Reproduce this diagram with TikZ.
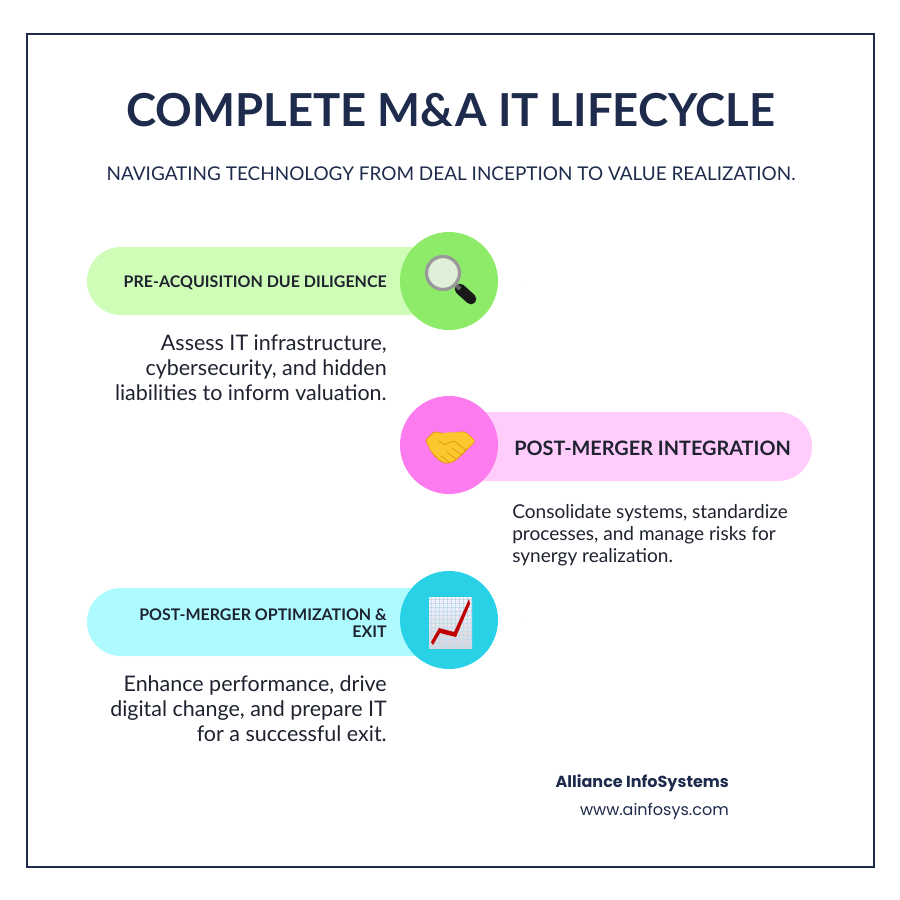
\documentclass[tikz,border=0pt]{standalone}
\usepackage{fontspec}
\setmainfont{Lato}
\newfontfamily\footfont{Poppins}
\definecolor{navy}{HTML}{1E2B4D}
\definecolor{ink}{HTML}{1F2330}
\definecolor{greenpill}{HTML}{CFFDB8}
\definecolor{greencirc}{HTML}{8EEB6A}
\definecolor{pinkpill}{HTML}{FFCCFC}
\definecolor{pinkcirc}{HTML}{FC7CF0}
\definecolor{cyanpill}{HTML}{ADFBFF}
\definecolor{cyancirc}{HTML}{29D1E6}
\definecolor{handyellow}{HTML}{FCC62E}
\definecolor{handdark}{HTML}{E09A12}
\definecolor{lens}{HTML}{DFEFD8}
\definecolor{sheetgrid}{HTML}{C6DAEE}
\usetikzlibrary{positioning}
\tikzset{
  circ/.style={circle, minimum size=73.5pt, inner sep=0pt},
  steptitle/.style={inner sep=0pt, text=ink, font=\fontsize{12pt}{12.5pt}\selectfont\bfseries},
  stepbody/.style={inner sep=0pt, text=ink, font=\fontsize{16.1pt}{18.75pt}\selectfont},
}
\begin{document}
\begin{tikzpicture}[x=0.75pt, y=-0.75pt]
\useasboundingbox (0, 0) rectangle (900, 900);
\fill [white] (0, 0) rectangle (900, 900);
\draw [navy, line width=1.5pt] (27, 34) rectangle (874, 867);
% heading
\node (title) [inner sep=0pt, text=navy, font=\fontsize{34.1pt}{40pt}\selectfont\bfseries] at (451, 110) {COMPLETE M\&A IT LIFECYCLE};
\node (subtitle) [inner sep=0pt, text=navy, font=\fontsize{14.2pt}{17pt}\selectfont] at (451, 174) {NAVIGATING TECHNOLOGY FROM DEAL INCEPTION TO VALUE REALIZATION.};
% pills
\fill [greenpill, rounded corners=25.5pt] (87, 247) rectangle (520, 315);
\fill [white] (450, 240) rectangle (520, 320);
\fill [pinkpill, rounded corners=25.5pt] (380, 412) rectangle (812, 481);
\fill [white] (375, 405) rectangle (449, 490);
\fill [cyanpill, rounded corners=25.5pt] (87, 588) rectangle (520, 656);
\fill [white] (450, 580) rectangle (520, 660);
\node (search) [circ, fill=greencirc] at (449, 281) {};
\node (shake) [circ, fill=pinkcirc] at (449, 445) {};
\node (chart) [circ, fill=cyancirc] at (449, 620) {};
% first step
\node (titlea) [steptitle, anchor=east] at (387, 283) {PRE-ACQUISITION DUE DILIGENCE};
\node (bodya) [stepbody, anchor=north east, align=right] at (387, 335) {Assess IT infrastructure,\\cybersecurity, and hidden\\liabilities to inform valuation.};
% second step
\node (titleb) [steptitle, anchor=west, font=\fontsize{14.9pt}{18pt}\selectfont\bfseries] at (514, 448) {POST-MERGER INTEGRATION};
\node (bodyb) [stepbody, anchor=north west, align=left, font=\fontsize{14.3pt}{16.5pt}\selectfont] at (512, 504) {Consolidate systems, standardize\\processes, and manage risks for\\synergy realization.};
% third step
\node (titlec) [steptitle, anchor=east, align=right] at (387, 623) {POST-MERGER OPTIMIZATION \&\\EXIT};
\node (bodyc) [stepbody, anchor=north east, align=right] at (387, 675) {Enhance performance, drive\\digital change, and prepare IT\\for a successful exit.};
% footer
\node (brand) [inner sep=0pt, anchor=east, text=navy, font=\fontsize{12pt}{14pt}\footfont\bfseries] at (729, 783) {Alliance InfoSystems};
\node (site) [inner sep=0pt, anchor=east, text=navy, font=\fontsize{12pt}{14pt}\footfont] at (729, 811) {www.ainfosys.com};
% magnifier
\draw [black!90, line width=8pt, line cap=round] (460, 289) -- (471, 299);
\draw [black!60, line width=3pt] (456, 285) -- (460, 289);
\fill [lens] (443, 273) circle (15.5);
\draw [black!40, line width=2.4pt] (443, 273) circle (16.5);
% handshake
\fill [handdark, rounded corners=2pt] (425, 440) -- (434, 431) -- (442, 433) -- (452, 433) -- (465, 431) -- (476, 441) -- (465, 452) -- (460, 457) -- (454, 462) -- (447, 464) -- (441, 462) -- (436, 458) -- (431, 452) -- cycle;
\fill [handyellow, rounded corners=1.5pt] (426, 440) -- (435, 432) -- (450, 436) -- (466, 447) -- (464, 452) -- (459, 456) -- (454, 461) -- (447, 463) -- (441, 461) -- (436, 456) -- (431, 451) -- cycle;
\fill [handyellow, rounded corners=1.5pt] (439, 436) .. controls (445, 431) and (455, 433) .. (465, 432) -- (475, 441) -- (466, 450) -- (454, 441) -- (444, 445) -- (439, 442) -- cycle;
\draw [handdark, line width=.6pt] (439, 441) -- (444, 444.5) -- (454, 441) -- (466, 450) (452, 448) -- (462, 455) (447, 452) -- (456, 459) (441, 456) -- (449, 462);
% line chart
\fill [top color=blue!4!white, bottom color=gray!32] (429, 597) rectangle (472, 648);
\foreach \gx in {431, 435, ..., 471} \draw [sheetgrid, line width=.2pt] (\gx, 597) -- (\gx, 648);
\foreach \gy in {599, 603, ..., 647} \draw [sheetgrid, line width=.2pt] (429, \gy) -- (472, \gy);
\fill [red!75!black] (431, 642) -- (439, 628) -- (454, 632) -- (469, 599) -- (470, 604) -- (456, 637) -- (440, 633) -- (433, 645) -- cycle;
\end{tikzpicture}
\end{document}
